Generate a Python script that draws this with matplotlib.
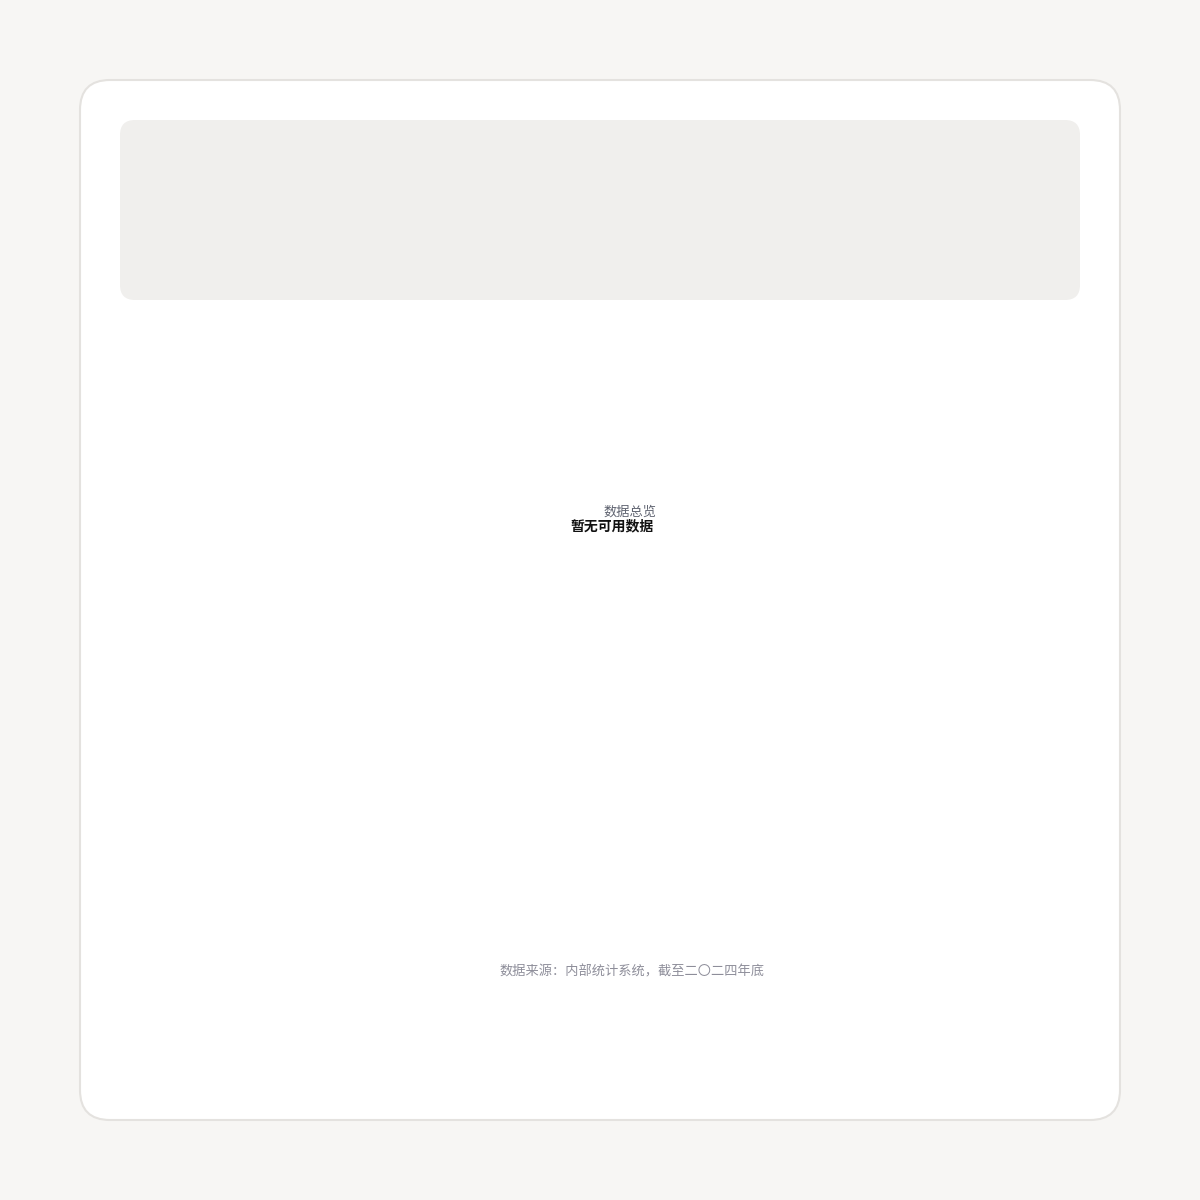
import matplotlib
matplotlib.use("Agg")
import matplotlib.pyplot as plt
from matplotlib.patches import FancyBboxPatch

plt.rcParams['font.family'] = ['Noto Sans CJK SC', 'DejaVu Sans']

# Chart content (empty-state chart: no data series)
categories = []
values = []
center_caption = "数据总览"
center_title = "暂无可用数据"
footnote = "数据来源：内部统计系统，截至二〇二四年底"

fig = plt.figure(figsize=(12, 12), dpi=100, facecolor="#f7f6f4")
ax = fig.add_axes([0, 0, 1, 1])
ax.set_xlim(0, 1200)
ax.set_ylim(1200, 0)
ax.axis("off")

# Card
card = FancyBboxPatch((80, 80), 1040, 1040,
                      boxstyle="round,pad=0,rounding_size=30",
                      facecolor="white", edgecolor="#e4e2df", linewidth=1.5)
ax.add_patch(card)

# Header panel
header = FancyBboxPatch((120, 120), 960, 180,
                        boxstyle="round,pad=0,rounding_size=15",
                        facecolor="#f0efed", edgecolor="none")
ax.add_patch(header)

# Center labels
ax.text(630, 512, center_caption, ha="center", va="center",
        fontsize=9.5, color="#5f6370")
ax.text(612, 526, center_title, ha="center", va="center",
        fontsize=10, color="#111111", fontweight="bold")

# Footnote
ax.text(632, 972, footnote, ha="center", va="center",
        fontsize=9.5, color="#8e8e9a")

fig.savefig("out.png", dpi=100, facecolor=fig.get_facecolor())
